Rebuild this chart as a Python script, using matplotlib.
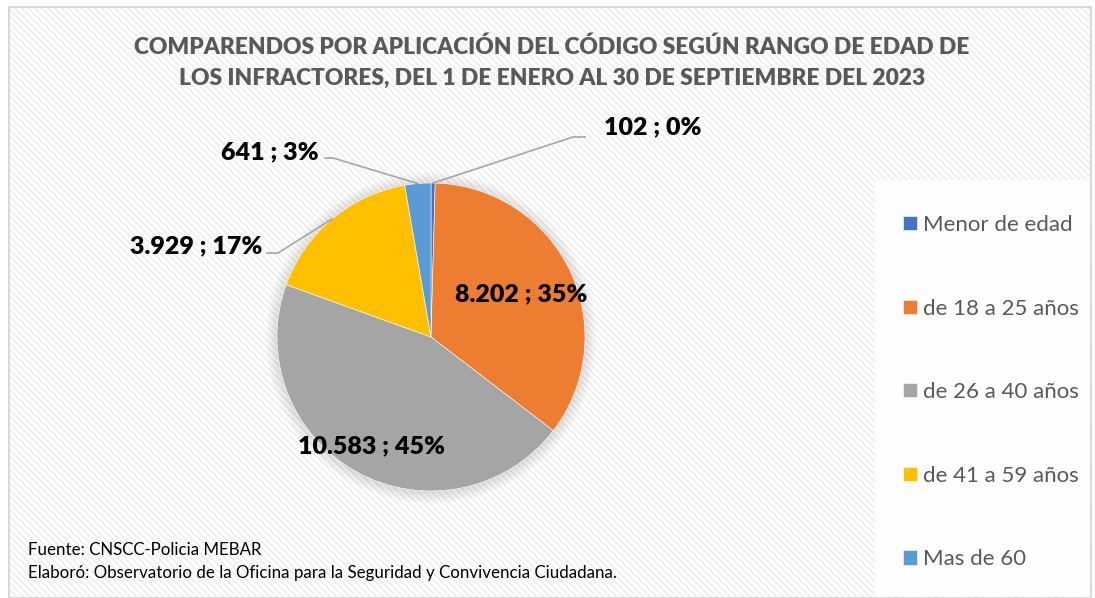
import numpy as np
import matplotlib
matplotlib.use("Agg")
import matplotlib.pyplot as plt
from matplotlib.patches import Rectangle, Circle
from matplotlib.lines import Line2D

categories = ["Menor de edad", "de 18 a 25 años", "de 26 a 40 años", "de 41 a 59 años", "Mas de 60"]
values = [102, 8202, 10583, 3929, 641]
colors = ["#4472C4", "#ED7D31", "#A5A5A5", "#FFC000", "#5B9BD5"]
title_lines = ["COMPARENDOS POR APLICACIÓN DEL CÓDIGO SEGÚN RANGO DE EDAD DE",
               "LOS INFRACTORES, DEL 1 DE ENERO AL 30 DE SEPTIEMBRE DEL 2023"]
source_lines = ["Fuente: CNSCC-Policia MEBAR",
                "Elaboró: Observatorio de la Oficina para la Seguridad y Convivencia Ciudadana."]

plt.rcParams['font.family'] = ['Lato', 'DejaVu Sans']
plt.rcParams['hatch.linewidth'] = 1.2

W, H = 1095, 598
fig = plt.figure(figsize=(W / 100, H / 100), dpi=100)
ax = fig.add_axes([0, 0, 1, 1])
ax.set_xlim(0, W)
ax.set_ylim(0, H)
ax.set_aspect('equal')
ax.axis('off')

def Y(y):  # pixel from top -> data
    return H - y

# background with diagonal stripes
ax.add_patch(Rectangle((0, 0), W, H, facecolor='white', edgecolor='none', zorder=0))
ax.add_patch(Rectangle((9, 0), 1082, Y(7), facecolor='white', edgecolor='#eeeeee',
                       hatch='\\\\\\\\\\', lw=0, zorder=0.5))
ax.add_patch(Rectangle((9, 0), 1082, Y(7), facecolor='none', edgecolor='#d9d9d9',
                       lw=1.5, zorder=10))

# legend box
ax.add_patch(Rectangle((875, 0), 1090 - 875, Y(180), facecolor='white', edgecolor='none',
                       alpha=0.85, zorder=1))

# title
ax.text(552, Y(47), title_lines[0], ha='center', va='center', fontsize=16.4,
        fontweight='heavy', color='#595959', zorder=5)
ax.text(552, Y(78), title_lines[1], ha='center', va='center', fontsize=16.4,
        fontweight='heavy', color='#595959', zorder=5)

# pie
cx, cy, r = 431, Y(337), 154
for i in range(10):
    ax.add_patch(Circle((cx, cy - 1), r + 1 + i * 1.2, facecolor='#000000', alpha=0.012,
                        edgecolor='none', zorder=1.5))
wedges, _ = ax.pie(values, colors=colors, startangle=90, counterclock=False,
                   center=(cx, cy), radius=r, frame=True,
                   wedgeprops=dict(edgecolor='white', linewidth=0.4, zorder=2))
ax.set_xlim(0, W)
ax.set_ylim(0, H)
ax.axis('off')

total = sum(values)

def fmt(v):
    return f"{v:,}".replace(",", ".") + " ; " + f"{round(100 * v / total):.0f}%"

mids = []
for w in wedges:
    mids.append(np.deg2rad((w.theta1 + w.theta2) / 2))

def pt(i, frac):
    a = mids[i]
    return cx + r * frac * np.cos(a), cy + r * frac * np.sin(a)

fs_lab = 18
fw_lab = 'heavy'
# inner labels
x, y = pt(1, 0.65)
ax.text(x, y, fmt(values[1]), ha='center', va='center', fontsize=fs_lab,
        fontweight=fw_lab, color='black', zorder=5)
x, y = pt(2, 0.81)
ax.text(x, y, fmt(values[2]), ha='center', va='center', fontsize=fs_lab,
        fontweight=fw_lab, color='black', zorder=5)

# outer labels with leader lines
lc = '#a6a6a6'
# Menor de edad
x0, y0 = pt(0, 1.0)
ax.add_line(Line2D([x0, 573, 585], [y0, Y(137), Y(137)], color=lc, lw=1.2, zorder=4))
ax.text(604, Y(127), fmt(values[0]), ha='left', va='center', fontsize=fs_lab,
        fontweight=fw_lab, color='black', zorder=5)
# Mas de 60
x0, y0 = pt(4, 1.0)
ax.add_line(Line2D([x0, 333, 325], [y0, Y(158), Y(158)], color=lc, lw=1.2, zorder=4))
ax.text(319, Y(152), fmt(values[4]), ha='right', va='center', fontsize=fs_lab,
        fontweight=fw_lab, color='black', zorder=5)
# 41 a 59
x0, y0 = pt(3, 1.0)
ax.add_line(Line2D([x0, 278, 267], [y0, Y(253), Y(253)], color=lc, lw=1.2, zorder=4))
ax.text(262, Y(246), fmt(values[3]), ha='right', va='center', fontsize=fs_lab,
        fontweight=fw_lab, color='black', zorder=5)

# legend
leg = ax.legend(wedges, categories, loc='upper left', bbox_to_anchor=(903 / W, 1 - 215 / H),
                frameon=False, fontsize=16.0, labelspacing=2.86, handlelength=0.62,
                handleheight=0.62, handletextpad=0.3, borderpad=0, borderaxespad=0,
                labelcolor='#595959')
leg.set_zorder(6)

# source
ax.text(28, Y(550), source_lines[0], ha='left', va='center', fontsize=12.2, color='black', zorder=5)
ax.text(28, Y(573), source_lines[1], ha='left', va='center', fontsize=12.2, color='black', zorder=5)

fig.savefig("out.png", dpi=100)
